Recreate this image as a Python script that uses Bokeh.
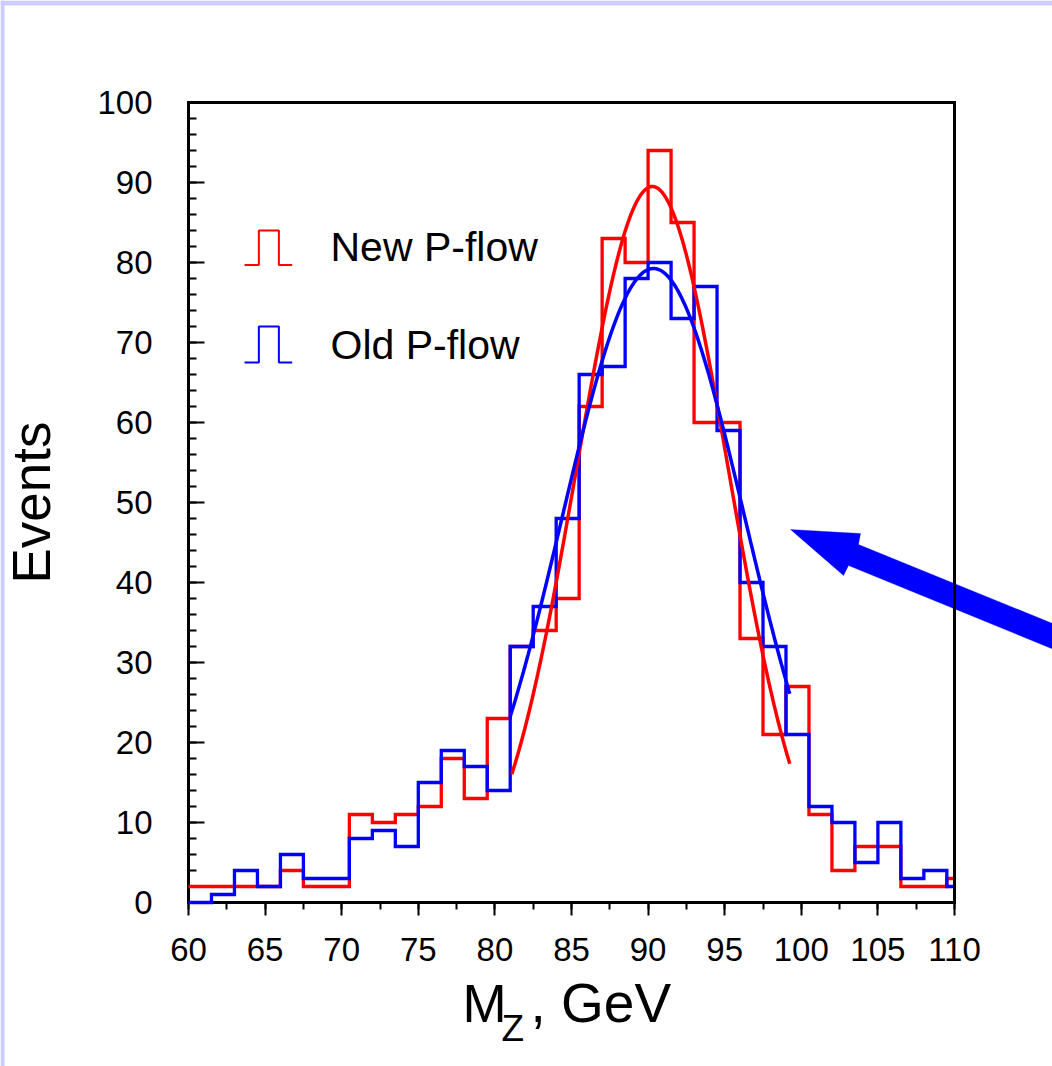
import numpy as np
from bokeh.plotting import figure
from bokeh.models import (Range1d, SingleIntervalTicker, FixedTicker, LinearAxis,
                          Label, PolyAnnotation, BoxAnnotation)
from bokeh.embed import file_html
from bokeh.resources import INLINE

# --- histogram data: 1.5 GeV bins starting at 60 GeV -------------------------
bin_start = 60.0
bin_width = 1.5
new_pflow_counts = [2, 2, 2, 2, 4, 2, 2, 11, 10, 11, 12, 18, 13, 23, 32, 34, 38,
                    62, 83, 80, 94, 85, 60, 60, 33, 21, 27, 11, 4, 7, 7, 2, 2, 3]
old_pflow_counts = [0, 1, 4, 2, 6, 3, 3, 8, 9, 7, 15, 19, 17, 14, 32, 37, 48,
                    66, 67, 78, 80, 73, 77, 59, 40, 32, 21, 12, 10, 5, 10, 3, 4, 2]

# Gaussian fit parameters (amplitude, mean, sigma, fit window)
new_fit = dict(amp=89.5, mean=90.28, sigma=4.95, lo=81.1, hi=99.25)
old_fit = dict(amp=79.25, mean=90.35, sigma=5.97, lo=81.0, hi=99.25)

x_min, x_max = 60, 110
y_min, y_max = 0, 100
x_tick_step = 5
y_tick_step = 10

RED = "#ff0000"
BLUE = "#0000ff"
LAVENDER = "#ccccff"
FONT = "Liberation Sans"

# page geometry (pixels): the drawing area spans the whole canvas so that the
# pointer arrow and the titles can sit outside the axes box
W, H = 1052, 1066
BOX_L, BOX_R, BOX_T, BOX_B = 188, 954, 102, 902
sx = (BOX_R - BOX_L) / (x_max - x_min)
sy = (BOX_B - BOX_T) / (y_max - y_min)
xr = Range1d(x_min - BOX_L / sx, x_max + (W - BOX_R) / sx)
yr = Range1d(y_min - (H - BOX_B) / sy, y_max + BOX_T / sy)

p = figure(width=W, height=H, x_range=xr, y_range=yr,
           output_backend="svg", toolbar_location=None, title_location=None,
           min_border=0, min_border_left=0, min_border_right=0,
           min_border_top=0, min_border_bottom=0,
           background_fill_color="white", border_fill_color="white",
           outline_line_color=None)
p.xgrid.grid_line_color = None
p.ygrid.grid_line_color = None

# --- axes pinned to the box edges -------------------------------------------------
xa = p.xaxis[0]
ya = p.yaxis[0]
xa.fixed_location = y_min
ya.fixed_location = x_min
xa.bounds = (x_min, x_max)
ya.bounds = (y_min, y_max)
xa.ticker = SingleIntervalTicker(interval=x_tick_step, num_minor_ticks=2)
ya.ticker = SingleIntervalTicker(interval=y_tick_step, num_minor_ticks=5)
for ax in (xa, ya):
    ax.level = "underlay"
    ax.axis_line_width = 3
    ax.axis_line_color = "black"
    ax.axis_line_cap = "square"
    ax.major_tick_line_width = 2
    ax.minor_tick_line_width = 2
    ax.major_tick_line_color = "black"
    ax.minor_tick_line_color = "black"
    ax.major_label_text_font = FONT
    ax.major_label_text_font_size = "33px"
    ax.major_label_text_color = "black"

ya.major_tick_in = 16
ya.major_tick_out = 0
ya.minor_tick_in = 8
ya.minor_tick_out = 0
ya.major_label_standoff = 36

xa.major_tick_in = 0
xa.major_tick_out = 13
xa.minor_tick_in = 0
xa.minor_tick_out = 7
xa.major_label_standoff = 22

# top and right edges of the box
top_edge = LinearAxis(fixed_location=y_max, bounds=(x_min, x_max),
                      ticker=FixedTicker(ticks=[]), axis_line_width=3,
                      axis_line_cap="square", level="underlay")
right_edge = LinearAxis(fixed_location=x_max, bounds=(y_min, y_max),
                        ticker=FixedTicker(ticks=[]), axis_line_width=3,
                        axis_line_cap="square", level="overlay")
p.add_layout(top_edge, "above")
p.add_layout(right_edge, "right")

# --- histograms as steps -----------------------------------------------------------
def step_arrays(counts):
    n = len(counts)
    edges = np.clip(bin_start + bin_width * np.arange(n + 1), x_min, x_max)
    return edges, list(counts) + [counts[-1]]

ex, ey = step_arrays(new_pflow_counts)
p.step(ex, ey, mode="after", line_color=RED, line_width=3.3, line_join="miter")
ex, ey = step_arrays(old_pflow_counts)
p.step(ex, ey, mode="after", line_color=BLUE, line_width=3.3, line_join="miter")

# --- gaussian fits -----------------------------------------------------------------
def gauss_curve(f):
    xs = np.linspace(f["lo"], f["hi"], 300)
    return xs, f["amp"] * np.exp(-0.5 * ((xs - f["mean"]) / f["sigma"]) ** 2)

gx, gy = gauss_curve(new_fit)
p.line(gx, gy, line_color=RED, line_width=3.5)
gx, gy = gauss_curve(old_fit)
p.line(gx, gy, line_color=BLUE, line_width=3.5)

# --- legend: pulse symbols and labels -----------------------------------------------
def pulse(x0, y0, w, h):
    return ([x0, x0 + 0.3 * w, x0 + 0.3 * w, x0 + 0.72 * w, x0 + 0.72 * w, x0 + w],
            [y0, y0, y0 + h, y0 + h, y0, y0])

px, py = pulse(63.66, 79.7, 3.11, 4.3)
p.line(px, py, line_color=RED, line_width=2)
px, py = pulse(63.66, 67.5, 3.11, 4.5)
p.line(px, py, line_color=BLUE, line_width=2)

for text, y in (("New P-flow", 246), ("Old P-flow", 344.5)):
    p.add_layout(Label(x=330, y=y, x_units="canvas", y_units="canvas", text=text,
                       text_font=FONT, text_font_size="41px", text_color="black",
                       text_baseline="alphabetic", text_align="left"))

# --- axis titles -----------------------------------------------------------------
p.add_layout(Label(x=31, y=502, x_units="canvas", y_units="canvas", text="Events",
                   angle=np.pi / 2, text_font=FONT, text_font_size="53px",
                   text_color="black", text_align="center",
                   text_baseline="middle"))
p.add_layout(Label(x=462, y=1003, x_units="canvas", y_units="canvas", text="M",
                   text_font=FONT, text_font_size="53px", text_color="black",
                   text_baseline="alphabetic"))
p.add_layout(Label(x=501, y=1028, x_units="canvas", y_units="canvas", text="Z",
                   text_font=FONT, text_font_size="37px", text_color="black",
                   text_baseline="alphabetic"))
p.add_layout(Label(x=530, y=1002, x_units="canvas", y_units="canvas", text=", GeV",
                   text_font=FONT, text_font_size="55px", text_color="black",
                   text_baseline="alphabetic"))

# --- pointer arrow ----------------------------------------------------------------
p.add_layout(PolyAnnotation(
    xs=[790, 860, 858, 1100, 1100, 848, 843],
    ys=[529, 533, 544, 642.5, 668, 565, 575],
    xs_units="canvas", ys_units="canvas",
    fill_color=BLUE, fill_alpha=1.0, line_color=BLUE, line_width=1))

# --- slide border bands -------------------------------------------------------------
p.add_layout(BoxAnnotation(left=0, right=W, top=0, bottom=5,
                           left_units="canvas", right_units="canvas",
                           top_units="canvas", bottom_units="canvas",
                           fill_color=LAVENDER, fill_alpha=1.0, line_alpha=0))
p.add_layout(BoxAnnotation(left=0, right=4, top=0, bottom=H,
                           left_units="canvas", right_units="canvas",
                           top_units="canvas", bottom_units="canvas",
                           fill_color=LAVENDER, fill_alpha=1.0, line_alpha=0))

open("out.html", "w").write(file_html(p, INLINE))
